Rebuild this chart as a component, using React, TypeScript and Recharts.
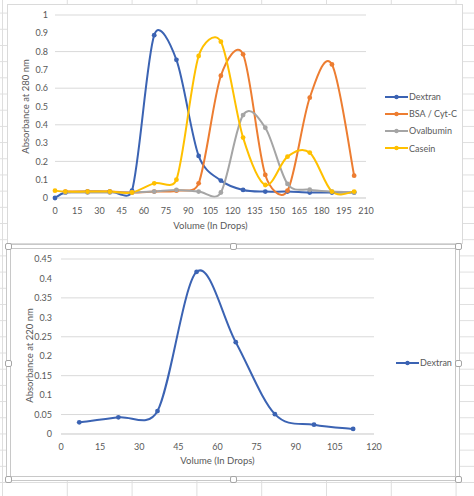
import React from "react";
import {
  LineChart,
  Line,
  XAxis,
  YAxis,
  CartesianGrid,
  Legend,
} from "recharts";

// top chart: absorbance at 280 nm
const volumeTop = [0, 7, 22, 37, 52, 67, 82, 97, 112, 127, 142, 157, 172, 187, 202];
const dextran280 = [0, 0.03, 0.035, 0.035, 0.04, 0.89, 0.755, 0.23, 0.095, 0.044, 0.035, 0.035, 0.03, 0.03, 0.03];
const bsaCytC = [null, 0.035, 0.035, 0.035, 0.03, 0.035, 0.04, 0.08, 0.668, 0.785, 0.126, 0.04, 0.548, 0.73, 0.122];
const ovalbumin = [null, 0.03, 0.03, 0.03, 0.03, 0.035, 0.044, 0.035, 0.03, 0.453, 0.384, 0.077, 0.045, 0.035, 0.03];
const casein = [0.04, 0.035, 0.035, 0.035, 0.03, 0.08, 0.1, 0.776, 0.854, 0.33, 0.071, 0.226, 0.248, 0.035, 0.035];
const topXTicks = [0, 15, 30, 45, 60, 75, 90, 105, 120, 135, 150, 165, 180, 195, 210];
const topYTicks = [0, 0.1, 0.2, 0.3, 0.4, 0.5, 0.6, 0.7, 0.8, 0.9, 1];
const seriesOrder = ["Dextran", "BSA / Cyt-C", "Ovalbumin", "Casein"];

// bottom chart: absorbance at 220 nm
const volumeBottom = [7, 22, 37, 52, 67, 82, 97, 112];
const dextran220 = [0.03, 0.043, 0.059, 0.417, 0.236, 0.051, 0.024, 0.013];
const bottomXTicks = [0, 15, 30, 45, 60, 75, 90, 105, 120];
const bottomYTicks = [0, 0.05, 0.1, 0.15, 0.2, 0.25, 0.3, 0.35, 0.4, 0.45];

const BLUE = "#3b63b3";
const ORANGE = "#ed7d31";
const GRAY = "#a5a5a5";
const GOLD = "#ffc000";
const TEXT = "#595959";
const GRID = "#d9d9d9";
const FONT = "Lato, 'Open Sans', sans-serif";

const topData = volumeTop.map((v, i) => ({
  volume: v,
  dextran: dextran280[i],
  bsa: bsaCytC[i],
  ovalbumin: ovalbumin[i],
  casein: casein[i],
}));

const bottomData = volumeBottom.map((v, i) => ({ volume: v, dextran: dextran220[i] }));

// excel style smoothed line (catmull-rom with shortened handles)
const clampLeg = (dx: number, dy: number, seg: number) => {
  const len = Math.hypot(dx, dy);
  const max = seg * 0.5;
  if (len > max && len > 0) {
    const k = max / len;
    return [dx * k, dy * k];
  }
  return [dx, dy];
};

const excelSmooth = (context: any) => {
  let pts: number[][] = [];
  return {
    areaStart() {},
    areaEnd() {},
    lineStart() {
      pts = [];
    },
    point(x: number, y: number) {
      pts.push([+x, +y]);
    },
    lineEnd() {
      const n = pts.length;
      if (!n) return;
      context.moveTo(pts[0][0], pts[0][1]);
      for (let i = 0; i < n - 1; i++) {
        const p0 = pts[Math.max(i - 1, 0)];
        const p1 = pts[i];
        const p2 = pts[i + 1];
        const p3 = pts[Math.min(i + 2, n - 1)];
        const seg = Math.hypot(p2[0] - p1[0], p2[1] - p1[1]);
        const a = clampLeg((p2[0] - p0[0]) / 6, (p2[1] - p0[1]) / 6, seg);
        const b = clampLeg((p3[0] - p1[0]) / 6, (p3[1] - p1[1]) / 6, seg);
        context.bezierCurveTo(p1[0] + a[0], p1[1] + a[1], p2[0] - b[0], p2[1] - b[1], p2[0], p2[1]);
      }
    },
  };
};

const renderLegend = (props: any) => {
  const items = [...(props.payload || [])].sort(
    (a: any, b: any) => seriesOrder.indexOf(a.value) - seriesOrder.indexOf(b.value)
  );
  return (
    <div style={{ fontFamily: FONT, fontSize: 9, color: TEXT }}>
      {items.map((item: any) => (
        <div key={item.value} style={{ display: "flex", alignItems: "center", height: 17.2 }}>
          <svg width={23} height={8} style={{ display: "block" }}>
            <line x1={0} y1={4} x2={23} y2={4} stroke={item.color} strokeWidth={2} />
            <circle cx={11.5} cy={4} r={2.2} fill={item.color} />
          </svg>
          <span style={{ marginLeft: 1, whiteSpace: "nowrap" }}>{item.value}</span>
        </div>
      ))}
    </div>
  );
};

const tickStyle = { fontSize: 9, fill: TEXT, fontFamily: FONT };
const titleStyle = { fontSize: 9.5, fill: TEXT, fontFamily: FONT };

const dotFor = (color: string) => ({ r: 2.4, fill: color, stroke: color, strokeWidth: 0 });

function Handle({ x, y }: { x: number; y: number }) {
  return (
    <div
      style={{
        position: "absolute",
        left: x - 3.5,
        top: y - 3.5,
        width: 7,
        height: 7,
        boxSizing: "border-box",
        border: "1px solid #a6a6a6",
        borderRadius: 2,
        background: "#fff",
      }}
    />
  );
}

export default function App() {
  return (
    <div
      style={{
        position: "absolute",
        left: 0,
        top: 0,
        width: 474,
        height: 496,
        overflow: "hidden",
        backgroundColor: "#fff",
        backgroundImage:
          "linear-gradient(to right, #dedede 1px, transparent 1px), linear-gradient(to bottom, #dedede 1px, transparent 1px)",
        backgroundSize: "64.8px 16.2px",
        backgroundPosition: "2px 12.6px",
      }}
    >
      {/* top chart */}
      <div
        style={{
          position: "absolute",
          left: 8,
          top: 5,
          width: 454,
          height: 238,
          background: "#fff",
          boxShadow: "0 0 0 1px #dadada",
        }}
      >
        <LineChart width={454} height={238} data={topData} margin={{ top: 10, right: 96, bottom: 0, left: 0 }}>
          <CartesianGrid vertical={false} stroke={GRID} />
          <XAxis
            dataKey="volume"
            type="number"
            domain={[0, 210]}
            ticks={topXTicks}
            height={45}
            tickLine={false}
            axisLine={{ stroke: GRID }}
            tickMargin={4}
            tick={tickStyle}
            label={{ value: "Volume (In Drops)", position: "insideBottom", offset: 14, style: titleStyle }}
          />
          <YAxis
            type="number"
            domain={[0, 1]}
            ticks={topYTicks}
            width={47}
            tickLine={false}
            axisLine={false}
            tickSize={0}
            tickMargin={7}
            tick={tickStyle}
            label={{ value: "Absorbance at 280 nm", angle: -90, position: "center", dx: -6, style: titleStyle }}
          />
          <Legend
            layout="vertical"
            align="center"
            verticalAlign="middle"
            content={renderLegend}
            wrapperStyle={{ left: 377, top: 83, width: 76 }}
          />
          <Line name="Dextran" dataKey="dextran" type={excelSmooth as any} stroke={BLUE} strokeWidth={2} dot={dotFor(BLUE)} activeDot={false} isAnimationActive={false} />
          <Line name="BSA / Cyt-C" dataKey="bsa" type={excelSmooth as any} stroke={ORANGE} strokeWidth={2} dot={dotFor(ORANGE)} activeDot={false} isAnimationActive={false} />
          <Line name="Ovalbumin" dataKey="ovalbumin" type={excelSmooth as any} stroke={GRAY} strokeWidth={2} dot={dotFor(GRAY)} activeDot={false} isAnimationActive={false} />
          <Line name="Casein" dataKey="casein" type={excelSmooth as any} stroke={GOLD} strokeWidth={2} dot={dotFor(GOLD)} activeDot={false} isAnimationActive={false} />
        </LineChart>
      </div>

      {/* bottom chart, shown selected */}
      <div
        style={{
          position: "absolute",
          left: 6,
          top: 244,
          width: 454,
          height: 237,
          boxSizing: "border-box",
          border: "1px solid #c8c8c8",
          background: "#fff",
        }}
      />
      <div
        style={{
          position: "absolute",
          left: 10,
          top: 248,
          width: 446,
          height: 229,
          boxSizing: "border-box",
          border: "1px solid #c8c8c8",
          background: "#fff",
        }}
      />
      <div style={{ position: "absolute", left: 10, top: 248 }}>
        <LineChart width={445} height={228} data={bottomData} margin={{ top: 11, right: 81, bottom: 0, left: 0 }}>
          <CartesianGrid vertical={false} stroke={GRID} />
          <XAxis
            dataKey="volume"
            type="number"
            domain={[0, 120]}
            ticks={bottomXTicks}
            height={42}
            tickLine={false}
            axisLine={{ stroke: GRID }}
            tickMargin={4}
            tick={tickStyle}
            label={{ value: "Volume (In Drops)", position: "insideBottom", offset: 12, style: titleStyle }}
          />
          <YAxis
            type="number"
            domain={[0, 0.45]}
            ticks={bottomYTicks}
            width={51}
            tickLine={false}
            axisLine={false}
            tickSize={0}
            tickMargin={9}
            tick={tickStyle}
            label={{ value: "Absorbance at 220 nm", angle: -90, position: "center", dx: -6, dy: 9, style: titleStyle }}
          />
          <Legend
            layout="vertical"
            align="center"
            verticalAlign="middle"
            content={renderLegend}
            wrapperStyle={{ left: 386, top: 106, width: 58 }}
          />
          <Line name="Dextran" dataKey="dextran" type={excelSmooth as any} stroke={BLUE} strokeWidth={2} dot={dotFor(BLUE)} activeDot={false} isAnimationActive={false} />
        </LineChart>
      </div>
      {[8, 233, 458].map((x) =>
        [246.5, 363, 479].map((y) =>
          x === 233 && y === 363 ? null : <Handle key={`${x}-${y}`} x={x} y={y} />
        )
      )}
    </div>
  );
}
